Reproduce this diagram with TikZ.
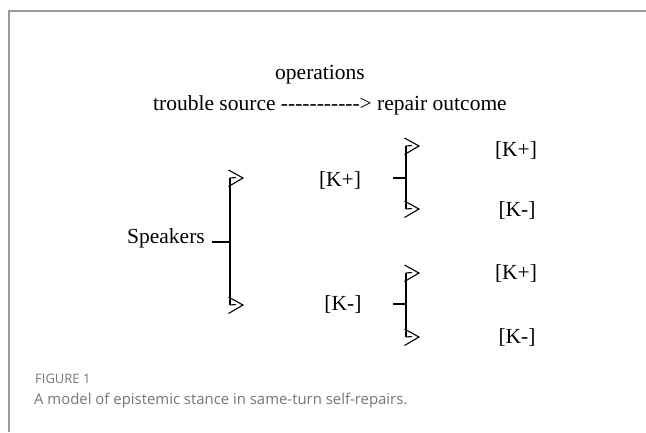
\documentclass[tikz,border=0pt]{standalone}
\usepackage{fontspec}
\setmainfont{Liberation Serif}[Ligatures=TeXOff]
\newfontfamily\capfont{Open Sans}
\usetikzlibrary{calc}
\definecolor{framegray}{HTML}{9A9A9A}
\definecolor{capgray}{HTML}{767676}
\tikzset{
  lbl/.style={font=\fontsize{21.5}{25}\selectfont, inner sep=0pt},
  stem/.style={line width=1.3pt},
  chev/.style={line width=1.1pt, line join=miter},
}
% open chevron marker drawn at a branch end
\newcommand{\chevron}[1]{%
  \draw[chev] ($(#1)+(-1.5,-8)$) -- ($(#1)+(13,0)$) -- ($(#1)+(-1.5,8.5)$);
  \draw[chev] ($(#1)+(0,0)$) -- ($(#1)+(6,-0.5)$);
}
\begin{document}
\begin{tikzpicture}[x=1pt,y=-1pt]
\useasboundingbox (0,0) rectangle (646,432);
\fill[white] (0,0) rectangle (646,432);
% frame
\draw[framegray, line width=1.2pt] (9,432) -- (9,11) -- (646,11);

% headings
\node[lbl, anchor=base west] (flow) at (153,110) {trouble source -----------> repair outcome};
\node[lbl, anchor=base] (ops) at (320,79) {operations};

% root
\node[lbl, anchor=base east] (spk) at (205,243) {Speakers};
\coordinate (r) at (230,242);
\coordinate (rt) at (230,178);
\coordinate (rb) at (230,305);
\draw[stem] (212,242) -- (r);
\draw[stem] (rt) -- (rb);
\chevron{rt}
\chevron{rb}

% middle labels
\node[lbl] (kp) at (340,180) {[K+]};
\node[lbl] (km) at (343,304) {[K-]};

% upper branch
\coordinate (a) at (406,178);
\coordinate (at) at (406,146);
\coordinate (ab) at (406,209);
\draw[stem] (393,178) -- (a);
\draw[stem] (at) -- (ab);
\chevron{at}
\chevron{ab}
\node[lbl] (kpp) at (516,150) {[K+]};
\node[lbl] (kpm) at (517,210) {[K-]};

% lower branch
\coordinate (b) at (406,304);
\coordinate (bt) at (406,273);
\coordinate (bb) at (406,337);
\draw[stem] (393,304) -- (b);
\draw[stem] (bt) -- (bb);
\chevron{bt}
\chevron{bb}
\node[lbl] (kmp) at (516,273) {[K+]};
\node[lbl] (kmm) at (517,337) {[K-]};

% caption
\node[anchor=west, inner sep=0pt, text=capgray, font=\capfont\fontsize{13}{15}\selectfont] (fig) at (35,379) {FIGURE 1};
\node[anchor=west, inner sep=0pt, text=capgray, font=\capfont\fontsize{14.9}{17}\selectfont] (cap) at (34,401) {A model of epistemic stance in same-turn self-repairs.};
\end{tikzpicture}
\end{document}
